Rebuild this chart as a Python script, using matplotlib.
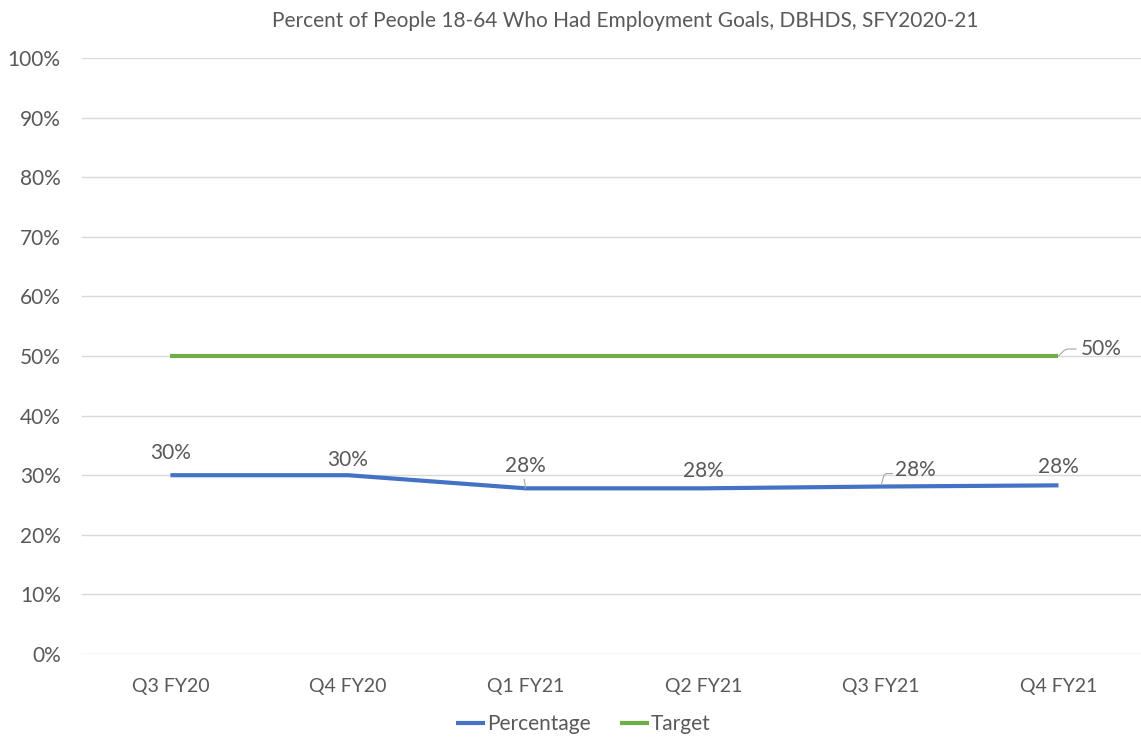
import matplotlib
matplotlib.use("Agg")
import matplotlib.pyplot as plt
from matplotlib.ticker import FuncFormatter, MultipleLocator

quarters = ["Q3 FY20", "Q4 FY20", "Q1 FY21", "Q2 FY21", "Q3 FY21", "Q4 FY21"]
percentage = [30.0, 30.0, 27.8, 27.8, 28.1, 28.3]
target = [50, 50, 50, 50, 50, 50]
pct_labels = ["30%", "30%", "28%", "28%", "28%", "28%"]
target_label = "50%"

TEXT = "#595959"
BLUE = "#4472C4"
GREEN = "#70AD47"
GRID = "#D9D9D9"
LEADER = "#A6A6A6"

plt.rcParams["font.family"] = ["Lato", "DejaVu Sans"]

fig = plt.figure(figsize=(11.41, 7.40), dpi=100)
ax = fig.add_axes([0.0715, 0.1162, 0.934, 0.8054])

x = list(range(len(quarters)))
ax.plot(x, percentage, color=BLUE, lw=3, label="Percentage", solid_capstyle="butt", zorder=3)
ax.plot(x, target, color=GREEN, lw=3, label="Target", solid_capstyle="butt", zorder=3)

ax.set_xlim(-0.5, 5.5)
ax.set_ylim(0, 100)
ax.yaxis.set_major_locator(MultipleLocator(10))
ax.yaxis.set_major_formatter(FuncFormatter(lambda v, p: f"{int(v)}%"))
ax.set_xticks(x)
ax.set_xticklabels(quarters)
ax.grid(axis="y", color=GRID, lw=1)
ax.set_axisbelow(True)
for s in ax.spines.values():
    s.set_visible(False)
ax.tick_params(axis="both", length=0, colors=TEXT)
ax.tick_params(axis="x", pad=17, labelsize=14)
ax.tick_params(axis="y", pad=15, labelsize=15)

# data labels above the percentage line (pixel offsets)
offsets = [(0, 22), (0, 15), (0, 22), (0, 17), (35, 17), (0, 18)]
for i, (lbl, off) in enumerate(zip(pct_labels, offsets)):
    kw = dict(xy=(x[i], percentage[i]), xytext=off, textcoords="offset pixels",
              ha="center", va="center", fontsize=15, color=TEXT)
    if i == 4:
        kw["arrowprops"] = dict(arrowstyle="-", color=LEADER, lw=0.8, shrinkA=0, shrinkB=2,
                                connectionstyle="angle,angleA=0,angleB=75,rad=3",
                                relpos=(0, 0.3))
    elif i == 2:
        kw["arrowprops"] = dict(arrowstyle="-", color=LEADER, lw=0.8, shrinkA=0, shrinkB=0,
                                relpos=(0.45, 0.05))
    ax.annotate(lbl, **kw)

ax.annotate(target_label, xy=(x[-1], target[-1]), xytext=(22, 7), textcoords="offset pixels",
            ha="left", va="center", fontsize=15, color=TEXT,
            arrowprops=dict(arrowstyle="-", color=LEADER, lw=0.8, shrinkA=1, shrinkB=0,
                            connectionstyle="angle,angleA=0,angleB=45,rad=3",
                            relpos=(0, 0.5)))

ax.set_title("Percent of People 18-64 Who Had Employment Goals, DBHDS, SFY2020-21",
             color=TEXT, fontsize=15, pad=22, x=(625 - 81.6) / (1141 * 0.934))

leg = fig.legend(loc="center", bbox_to_anchor=(0.511, 0.021), ncol=2, frameon=False,
                 fontsize=15, handlelength=1.4, handletextpad=0.1, columnspacing=1.4)
for t in leg.get_texts():
    t.set_color(TEXT)

fig.savefig("out.png", dpi=100)
